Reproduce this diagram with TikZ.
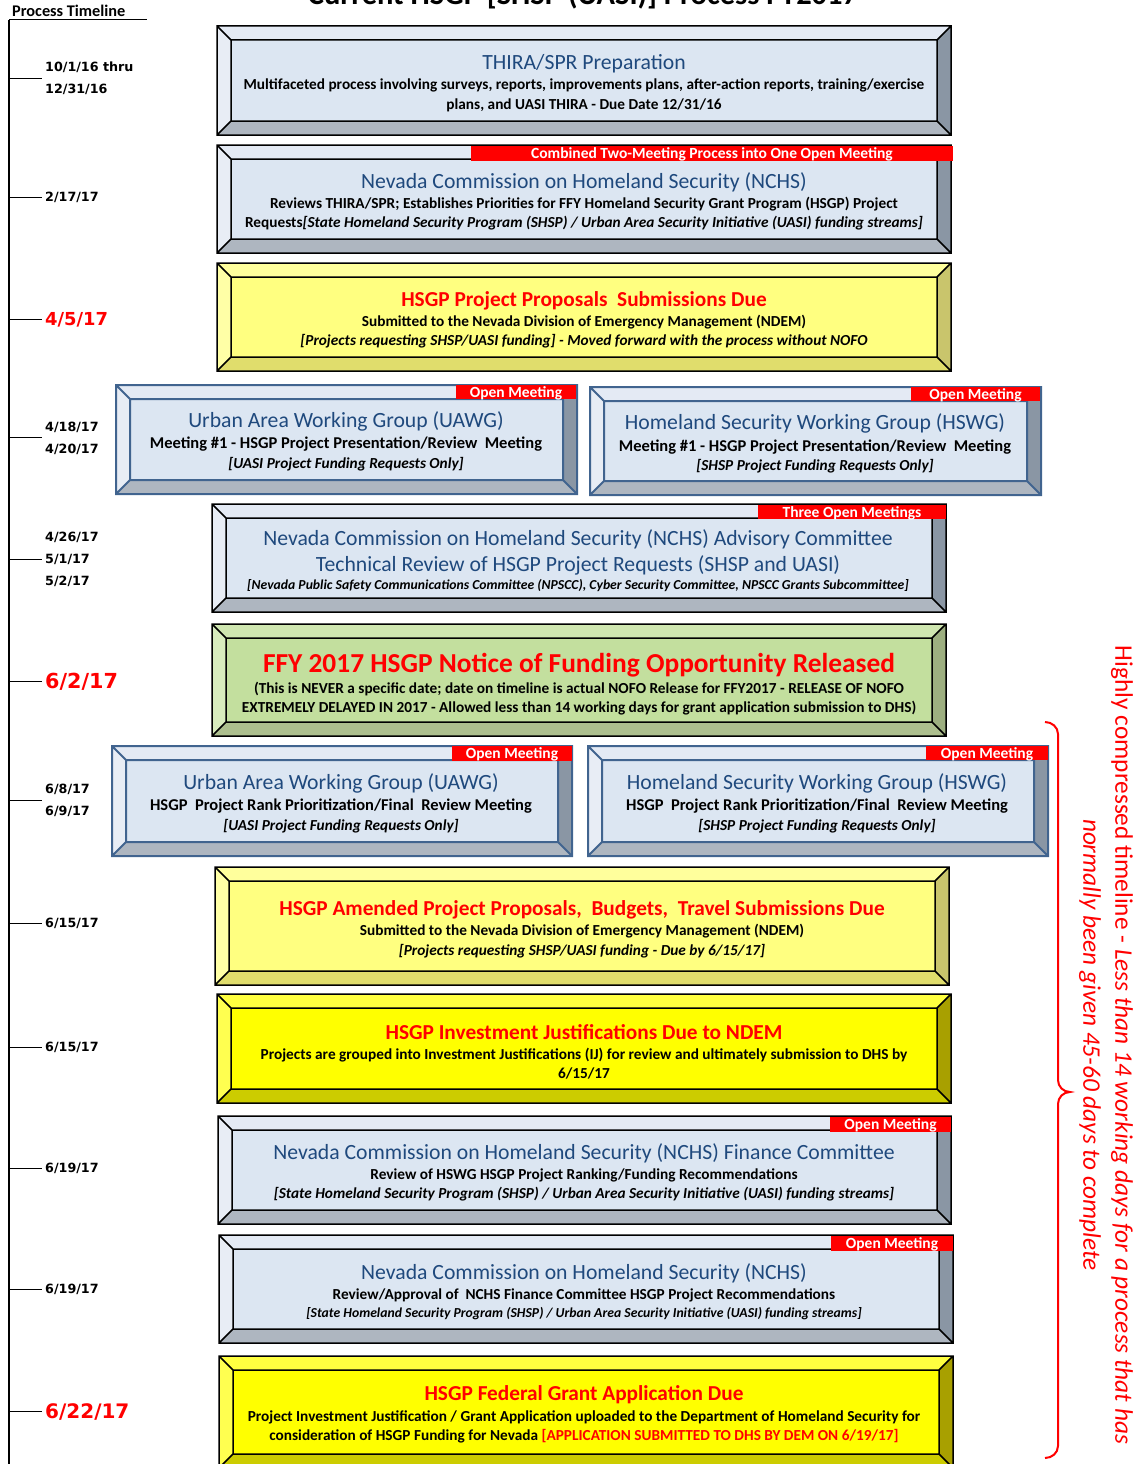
\documentclass[tikz,border=0pt]{standalone}
\usepackage{fontspec}
\setmainfont{Carlito}
\newfontfamily\dvs{DejaVu Sans}
\definecolor{bluT}{HTML}{E4EAF4}
\definecolor{bluL}{HTML}{E8EDF5}
\definecolor{bluI}{HTML}{DCE6F2}
\definecolor{bluR}{HTML}{8A96A4}
\definecolor{bluB}{HTML}{AEB6C0}
\definecolor{lyT}{HTML}{FFFF9C}
\definecolor{lyL}{HTML}{FFFFA6}
\definecolor{lyI}{HTML}{FFFF80}
\definecolor{lyR}{HTML}{C9C56C}
\definecolor{lyB}{HTML}{E0DD6C}
\definecolor{byT}{HTML}{FFFF40}
\definecolor{byL}{HTML}{FFFF50}
\definecolor{byI}{HTML}{FFFF00}
\definecolor{byR}{HTML}{A8A000}
\definecolor{byB}{HTML}{CCCC00}
\definecolor{grT}{HTML}{CFE6B0}
\definecolor{grL}{HTML}{D8ECBD}
\definecolor{grI}{HTML}{C3DF9E}
\definecolor{grR}{HTML}{9DAF80}
\definecolor{grB}{HTML}{ADBF8E}
\definecolor{tblue}{HTML}{1F497D}
\definecolor{lblue}{HTML}{41648F}
\newcommand{\bev}[7]{%
\fill[#5T] (#1,#2) -- (#3,#2) -- (#3-#7,#2+#7) -- (#1+#7,#2+#7) -- cycle;
\fill[#5L] (#1,#2) -- (#1+#7,#2+#7) -- (#1+#7,#4-#7) -- (#1,#4) -- cycle;
\fill[#5R] (#3,#2) -- (#3,#4) -- (#3-#7,#4-#7) -- (#3-#7,#2+#7) -- cycle;
\fill[#5B] (#1,#4) -- (#3,#4) -- (#3-#7,#4-#7) -- (#1+#7,#4-#7) -- cycle;
\fill[#5I] (#1+#7,#2+#7) rectangle (#3-#7,#4-#7);
\draw[#6] (#1,#2) rectangle (#3,#4) (#1+#7,#2+#7) rectangle (#3-#7,#4-#7)
  (#1,#2) -- (#1+#7,#2+#7) (#3,#2) -- (#3-#7,#2+#7)
  (#1,#4) -- (#1+#7,#4-#7) (#3,#4) -- (#3-#7,#4-#7);}
% banner: x1 y1 x2 y2 name text
\newcommand{\banner}[6]{%
\begin{scope}
\clip (#1,#2) rectangle (#3,#4);
\fill[red] (#1,#2) rectangle (#3,#4);
\node[bant] (#5) at ({(#1+#3)/2},#2+12.5) {#6};
\end{scope}}
\begin{document}
\begin{tikzpicture}[x=1pt,y=-1pt,
  blk/.style={black,line width=1.5pt},
  blu/.style={lblue,line width=2pt},
  ttl/.style={anchor=base,inner sep=0pt,font=\fontsize{21.7}{26}\selectfont,text=tblue},
  rttl/.style={anchor=base,inner sep=0pt,font=\bfseries\fontsize{21.3}{26}\selectfont,text=red},
  bod/.style={anchor=base,inner sep=0pt,font=\bfseries\fontsize{15.3}{18}\selectfont},
  bodi/.style={anchor=base,inner sep=0pt,font=\bfseries\itshape\fontsize{15.3}{18}\selectfont},
  hbod/.style={anchor=base,inner sep=0pt,font=\bfseries\fontsize{16.5}{19}\selectfont},
  bant/.style={anchor=base,inner sep=0pt,text=white,font=\bfseries\fontsize{15.5}{17}\selectfont},
  dt/.style={anchor=base west,inner sep=0pt,font=\dvs\bfseries\fontsize{12.7}{15}\selectfont},
  dtr/.style={anchor=base west,inner sep=0pt,text=red,font=\dvs\bfseries\fontsize{20.5}{24}\selectfont},
  tick/.style={black,line width=1pt}]
\useasboundingbox (0,0) rectangle (1135,1464);
% title (cut off at top)
\node[anchor=base,inner sep=0pt,font=\bfseries\fontsize{30.5}{34}\selectfont] (title) at (583,5) {Current HSGP [SHSP (UASI)] Process FY2017};
% timeline
\node[anchor=base west,inner sep=0pt,font=\bfseries\fontsize{16.3}{19}\selectfont] (ptl) at (12,16.4) {Process Timeline};
\coordinate (ax0) at (9,20);
\coordinate (ax1) at (9,1464);
\coordinate (ulend) at (147,20);
\draw[black,line width=1.5pt] (ax0) -- (ax1);
\draw[black,line width=1pt] (ax0) -- (ulend);
\foreach \n/\y in {a/78,b/197,c/319,d/437,e/559,f/681,g/800,h/923,i/1047,j/1168,k/1289,l/1411}{
  \coordinate (ts\n) at (9,\y);
  \coordinate (te\n) at (42,\y);
  \draw[tick] (ts\n) -- (te\n);
}
\node[dt] (d1) at (45,71.6) {10/1/16 thru};
\node[dt] (d2) at (45,93.6) {12/31/16};
\node[dt] (d3) at (45,201.6) {2/17/17};
\node[dtr,font=\dvs\bfseries\fontsize{17.9}{21}\selectfont] (d4) at (45,325.5) {4/5/17};
\node[dt] (d5) at (45,431.6) {4/18/17};
\node[dt] (d6) at (45,453.6) {4/20/17};
\node[dt] (d7) at (45,541.6) {4/26/17};
\node[dt] (d8) at (45,563.6) {5/1/17};
\node[dt] (d9) at (45,585.6) {5/2/17};
\node[dtr,font=\dvs\bfseries\fontsize{20.7}{24}\selectfont] (d10) at (45,688.6) {6/2/17};
\node[dt] (d11) at (45,793.6) {6/8/17};
\node[dt] (d12) at (45,815.6) {6/9/17};
\node[dt] (d13) at (45,927.6) {6/15/17};
\node[dt] (d14) at (45,1051.6) {6/15/17};
\node[dt] (d15) at (45,1172.6) {6/19/17};
\node[dt] (d16) at (45,1293.6) {6/19/17};
\node[dtr,font=\dvs\bfseries\fontsize{20}{24}\selectfont] (d17) at (45,1418.3) {6/22/17};
% box 1
\bev{217}{26}{951}{135}{blu}{blk}{14}
\node[ttl] (b1t) at (584,69.2) {THIRA/SPR Preparation};
\node[bod] (b1a) at (584,89) {Multifaceted process involving surveys, reports, improvements plans, after-action reports, training/exercise};
\node[bod] (b1b) at (584,109) {plans, and UASI THIRA - Due Date 12/31/16};
% box 2
\bev{217}{145}{951}{253}{blu}{blk}{14}
\banner{471}{146}{953}{161}{b2ban}{Combined Two-Meeting Process into One Open Meeting}
\node[ttl] (b2t) at (584,188.2) {Nevada Commission on Homeland Security (NCHS)};
\node[bod] (b2a) at (584,208) {Reviews THIRA/SPR; Establishes Priorities for FFY Homeland Security Grant Program (HSGP) Project};
\node[bod] (b2b) at (584,227) {Requests\textit{[State Homeland Security Program (SHSP) / Urban Area Security Initiative (UASI) funding streams]}};
% box 3
\bev{217}{263}{951}{371}{ly}{blk}{14}
\node[rttl] (b3t) at (584,306) {HSGP Project Proposals\ \ Submissions Due};
\node[bod] (b3a) at (584,326) {Submitted to the Nevada Division of Emergency Management (NDEM)};
\node[bodi] (b3b) at (584,345) {[Projects requesting SHSP/UASI funding] - Moved forward with the process without NOFO};
% box 4a
\bev{116}{385}{577}{494}{blu}{blu}{14}
\banner{456}{385}{576}{399}{b4aban}{Open Meeting}
\node[ttl] (b4at) at (346,427.2) {Urban Area Working Group (UAWG)};
\node[hbod] (b4aa) at (346,448.5) {Meeting \#1 - HSGP Project Presentation/Review\ \ Meeting};
\node[bodi] (b4ab) at (346,468) {[UASI Project Funding Requests Only]};
% box 4b
\bev{590}{387}{1041}{495}{blu}{blu}{14}
\banner{911}{387}{1040}{401}{b4bban}{Open Meeting}
\node[ttl] (b4bt) at (815,429.2) {Homeland Security Working Group (HSWG)};
\node[hbod] (b4ba) at (815,451.5) {Meeting \#1 - HSGP Project Presentation/Review\ \ Meeting};
\node[bodi] (b4bb) at (815,470) {[SHSP Project Funding Requests Only]};
% box 5
\bev{212}{504}{946}{612}{blu}{blk}{14}
\banner{758}{505}{946}{519}{b5ban}{Three Open Meetings}
\node[ttl] (b5t) at (578,545.2) {Nevada Commission on Homeland Security (NCHS) Advisory Committee};
\node[ttl] (b5t2) at (578,571.2) {Technical Review of HSGP Project Requests (SHSP and UASI)};
\node[bodi,font=\bfseries\itshape\fontsize{13.7}{16}\selectfont] (b5b) at (578,589.5) {[Nevada Public Safety Communications Committee (NPSCC), Cyber Security Committee, NPSCC Grants Subcommittee]};
% box 6
\bev{212}{624}{946}{736}{gr}{blk}{14}
\node[rttl,font=\bfseries\fontsize{27.4}{32}\selectfont] (b6t) at (579,672) {FFY 2017 HSGP Notice of Funding Opportunity Released};
\node[bod] (b6a) at (579,693) {(This is NEVER a specific date; date on timeline is actual NOFO Release for FFY2017 - RELEASE OF NOFO};
\node[bod] (b6b) at (579,712) {EXTREMELY DELAYED IN 2017 - Allowed less than 14 working days for grant application submission to DHS)};
% box 7a
\bev{112}{746}{572}{856}{blu}{blu}{14}
\banner{452}{746}{572}{761}{b7aban}{Open Meeting}
\node[ttl] (b7at) at (341,789.2) {Urban Area Working Group (UAWG)};
\node[hbod] (b7aa) at (341,810.5) {HSGP\ \ Project Rank Prioritization/Final\ \ Review Meeting};
\node[bodi] (b7ab) at (341,830) {[UASI Project Funding Requests Only]};
% box 7b
\bev{588}{746}{1048}{856}{blu}{blu}{14}
\banner{926}{746}{1048}{760}{b7bban}{Open Meeting}
\node[ttl] (b7bt) at (817,789.2) {Homeland Security Working Group (HSWG)};
\node[hbod] (b7ba) at (817,810.5) {HSGP\ \ Project Rank Prioritization/Final\ \ Review Meeting};
\node[bodi] (b7bb) at (817,830) {[SHSP Project Funding Requests Only]};
% box 8
\bev{215}{867}{949}{985}{ly}{blk}{14}
\node[rttl] (b8t) at (582,915) {HSGP Amended Project Proposals,\ \ Budgets,\ \ Travel Submissions Due};
\node[bod] (b8a) at (582,935) {Submitted to the Nevada Division of Emergency Management (NDEM)};
\node[bodi] (b8b) at (582,955) {[Projects requesting SHSP/UASI funding - Due by 6/15/17]};
% box 9
\bev{217}{994}{951}{1103}{by}{blk}{14}
\node[rttl] (b9t) at (584,1039) {HSGP Investment Justifications Due to NDEM};
\node[bod] (b9a) at (584,1059) {Projects are grouped into Investment Justifications (IJ) for review and ultimately submission to DHS by};
\node[bod] (b9b) at (584,1078) {6/15/17};
% box 10
\bev{218}{1116}{951}{1224}{blu}{blk}{14}
\banner{830}{1117}{951}{1132}{b10ban}{Open Meeting}
\node[ttl] (b10t) at (584,1159.2) {Nevada Commission on Homeland Security (NCHS) Finance Committee};
\node[bod] (b10a) at (584,1179) {Review of HSWG HSGP Project Ranking/Funding Recommendations};
\node[bodi] (b10b) at (584,1198) {[State Homeland Security Program (SHSP) / Urban Area Security Initiative (UASI) funding streams]};
% box 11
\bev{219}{1235}{953}{1343}{blu}{blk}{14}
\banner{831}{1236}{953}{1251}{b11ban}{Open Meeting}
\node[ttl] (b11t) at (584,1279.2) {Nevada Commission on Homeland Security (NCHS)};
\node[bod] (b11a) at (584,1299) {Review/Approval of\ \ NCHS Finance Committee HSGP Project Recommendations};
\node[bodi,font=\bfseries\itshape\fontsize{13.7}{16}\selectfont] (b11b) at (584,1317.5) {[State Homeland Security Program (SHSP) / Urban Area Security Initiative (UASI) funding streams]};
% box 12
\bev{219}{1356}{953}{1468}{by}{blk}{14}
\node[rttl] (b12t) at (584,1400) {HSGP Federal Grant Application Due};
\node[bod] (b12a) at (584,1421) {Project Investment Justification / Grant Application uploaded to the Department of Homeland Security for};
\node[bod] (b12b) at (584,1440) {consideration of HSGP Funding for Nevada \textcolor{red}{[APPLICATION SUBMITTED TO DHS BY DEM ON 6/19/17]}};
% brace and note
\coordinate (brt) at (1045,722);
\coordinate (brb) at (1045,1458);
\draw[red,line width=2pt] (brt) to[out=0,in=90] (1058,734) -- (1058,1080)
  to[out=-90,in=180] (1070,1092) to[out=180,in=90] (1058,1104) -- (1058,1446)
  to[out=-90,in=0] (brb);
\node[rotate=-90,align=center,text=red,inner sep=0pt,font=\fontsize{25.3}{32}\selectfont] (note) at (1106,1045)
  {Highly compressed timeline - \textit{Less than 14 working days for a process that has}\\ \textit{normally been given 45-60 days to complete}};
\end{tikzpicture}
\end{document}
